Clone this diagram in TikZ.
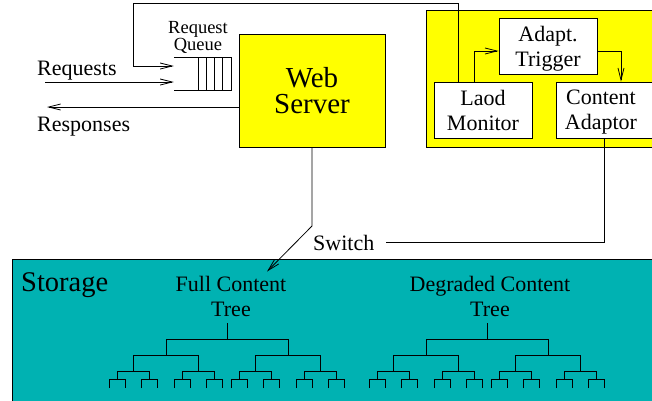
\documentclass[tikz,border=0pt]{standalone}
\usepackage{fontspec}
\setmainfont{Liberation Serif}
\usetikzlibrary{arrows.meta}
\definecolor{figyellow}{RGB}{255,255,0}
\definecolor{storecyan}{RGB}{0,178,178}
\tikzset{
  plainbox/.style={draw, line width=0.8pt, inner sep=0pt},
  ybox/.style={plainbox, fill=figyellow},
  wbox/.style={plainbox, fill=white},
  lbl/.style={font=\fontsize{22}{25}\selectfont, align=center, inner sep=0pt},
  biglbl/.style={font=\fontsize{28.5}{24}\selectfont, align=center, inner sep=0pt},
  smalllbl/.style={font=\fontsize{18.5}{17}\selectfont, align=center, inner sep=0pt},
  wire/.style={line width=0.8pt},
  arr/.style={wire, -{Straight Barb[length=12pt,width=6pt]}},
}
\begin{document}
\begin{tikzpicture}[x=1pt, y=-1pt]
    \useasboundingbox (0,0) rectangle (652,400);

    % storage
    \node[plainbox, fill=storecyan, minimum width=660, minimum height=160, anchor=north west] (store) at (12,259) {};
    \node[biglbl, anchor=base west] (storelbl) at (21,291) {Storage};
    \node[lbl] (full) at (231,296) {Full Content\\Tree};
    \node[lbl] (degr) at (490,296) {Degraded Content\\Tree};

    % trees
    \foreach \r in {227,487} {
        \draw[wire] (\r,323) -- (\r,339);
        \draw[wire] (\r-61,355) |- (\r+61,339) -- (\r+61,355);
        \foreach \a in {-61,61} {
            \draw[wire] (\r+\a-32.5,371) |- (\r+\a+32.5,355) -- (\r+\a+32.5,371);
            \foreach \b in {-32.5,32.5} {
                \draw[wire] (\r+\a+\b-16.25,379) |- (\r+\a+\b+16.25,371) -- (\r+\a+\b+16.25,379);
                \foreach \c in {-16.25,16.25}
                    \draw[wire] (\r+\a+\b+\c-8.1,388) |- (\r+\a+\b+\c+8.1,379) -- (\r+\a+\b+\c+8.1,388);
            }
        }
    }

    % web server
    \node[ybox, minimum width=146, minimum height=113, font=\fontsize{29}{25.5}\selectfont, align=center, text depth=0pt] (web) at (312,90.5) {Web\\Server};

    % request queue
    \node[minimum width=57, minimum height=32, inner sep=0pt] (queue) at (202.5,74) {};
    \draw[wire] (queue.north west) -- (queue.north east) -- (queue.south east) -- (queue.south west);
    \foreach \qx in {198,206.25,214.5,222.75}
        \draw[wire] (\qx,58) -- (\qx,90);
    \node[smalllbl] (qlbl) at (198,37.5) {Request\\Queue};

    % controller
    \node[ybox, minimum width=244, minimum height=137] (ctrl) at (548,78.5) {};
    \node[wbox, minimum width=98, minimum height=56, lbl, text depth=0pt] (trig) at (548,46) {Adapt.\\Trigger};
    \node[wbox, minimum width=98, minimum height=56, lbl] (laod) at (483,110) {Laod\\Monitor};
    \node[wbox, minimum width=110, minimum height=56] (ca) at (611,110) {};
    \node[lbl, text depth=0pt] (catxt) at (601,110) {Content\\Adaptor};

    % requests / responses
    \node[lbl, anchor=base west] (req) at (37,75) {Requests};
    \node[lbl, anchor=base west] (resp) at (37,131) {Responses};
    \coordinate (reqin) at (45,82);
    \coordinate (respout) at (47,107);
    \draw[arr] (reqin) -- (queue.west |- reqin);
    \draw[arr] (web.west |- respout) -- (respout);

    % feedback
    \coordinate (fbcorner) at (133,3);
    \draw[arr] ([xshift=-25pt]laod.north) |- (fbcorner) |- ([yshift=8pt]queue.west);
    \draw[arr] ([xshift=-9pt]laod.north) |- ([yshift=-5pt]trig.west);
    \draw[arr] ([yshift=-5pt]trig.east) -| ([xshift=10pt]ca.north);

    % switch
    \node[lbl, anchor=base west] (sw) at (313,250) {Switch};
    \draw[wire] ([xshift=-7pt]ca.south) |- ([xshift=11pt]sw.east);
    \coordinate (swbend) at (312,226);
    \draw[arr] (web) -- (swbend) -- ([xshift=36pt,yshift=4pt]full.north);
\end{tikzpicture}
\end{document}
